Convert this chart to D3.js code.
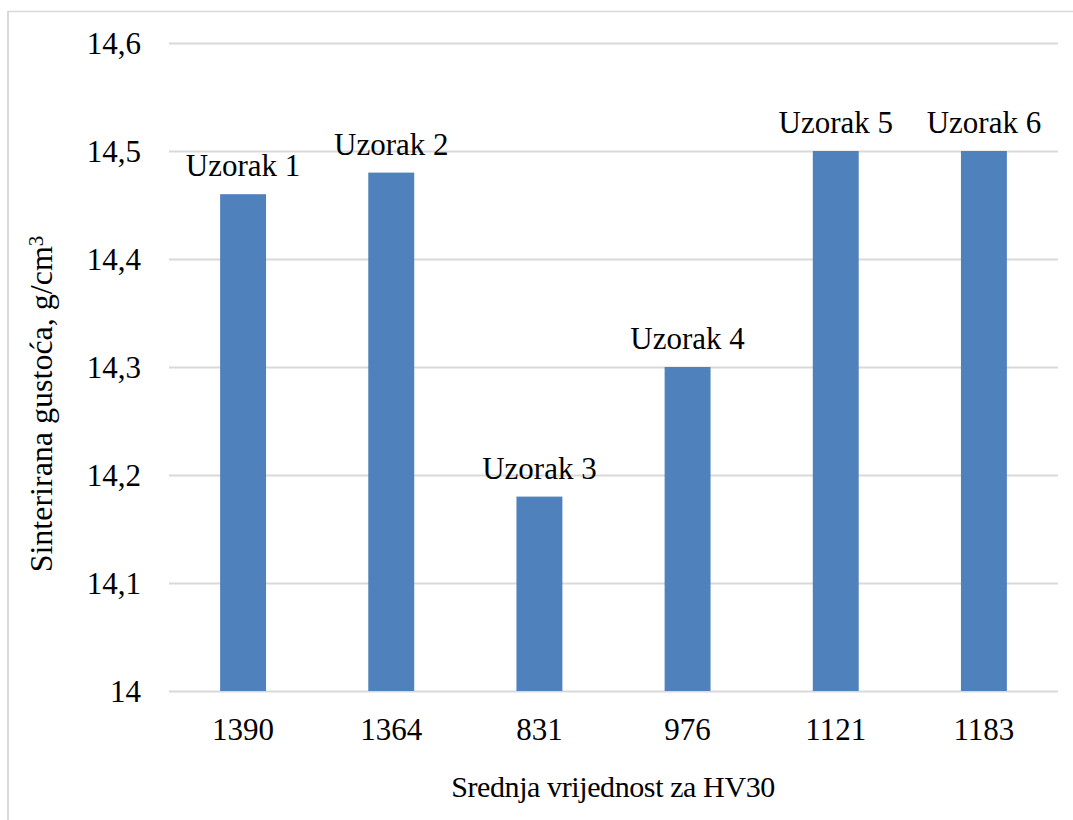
<!DOCTYPE html>
<html>
<head>
<meta charset="utf-8">
<script src="https://cdn.jsdelivr.net/npm/d3@7"></script>
<style>
  html, body { margin: 0; padding: 0; background: #fff; }
  svg { display: block; }
</style>
</head>
<body>
<svg id="chart" width="1073" height="820"></svg>
<script>
// Hardness (HV30) categories and sintered density per sample
const categories = ["1390", "1364", "831", "976", "1121", "1183"];
const densities = [14.46, 14.48, 14.18, 14.30, 14.50, 14.50];
const sampleLabels = ["Uzorak 1", "Uzorak 2", "Uzorak 3", "Uzorak 4", "Uzorak 5", "Uzorak 6"];
const yTicks = [14, 14.1, 14.2, 14.3, 14.4, 14.5, 14.6];

const svg = d3.select("#chart");
const W = 1073, H = 820;
const plot = { left: 169, right: 1058, top: 43, bottom: 691 };
const fontSize = 30;
const serif = "Liberation Serif";
const grid = "#d9d9d9";

function styleText(sel, size = fontSize) {
  return sel.style("font-family", serif)
    .style("font-size", size + "px")
    .style("fill", "#000");
}

// chart frame (top and left edges)
svg.append("line").attr("x1", 8).attr("x2", W).attr("y1", 11.5).attr("y2", 11.5)
  .attr("stroke", grid).attr("stroke-width", 1.5);
svg.append("line").attr("x1", 8).attr("x2", 8).attr("y1", 11).attr("y2", H)
  .attr("stroke", grid).attr("stroke-width", 2);

const x = d3.scaleBand()
  .domain(categories)
  .range([plot.left, plot.right])
  .paddingInner(0.69)
  .paddingOuter(0.345);

const y = d3.scaleLinear()
  .domain([14, 14.6])
  .range([plot.bottom, plot.top]);

// horizontal gridlines
svg.append("g")
  .selectAll("line")
  .data(yTicks)
  .join("line")
  .attr("x1", plot.left).attr("x2", plot.right)
  .attr("y1", d => Math.round(y(d)) + 0.5).attr("y2", d => Math.round(y(d)) + 0.5)
  .attr("stroke", grid).attr("stroke-width", 2);

// y tick labels
const yAxis = d3.axisLeft(y).tickValues(yTicks)
  .tickFormat(d => d3.format(".1f")(d).replace(".", ",").replace(/,0$/, ""))
  .tickSize(0).tickPadding(0);
const gy = svg.append("g").attr("transform", "translate(141,0)").call(yAxis);
gy.select(".domain").remove();
styleText(gy.selectAll("text"), 31).attr("dy", "0.34em");

// bars
svg.append("g")
  .selectAll("rect")
  .data(densities)
  .join("rect")
  .attr("x", (d, i) => x(categories[i]))
  .attr("width", x.bandwidth())
  .attr("y", d => y(d))
  .attr("height", d => y(14) - y(d))
  .attr("fill", "#4f81bd");

// sample labels above bars
styleText(svg.append("g")
  .selectAll("text")
  .data(densities)
  .join("text")
  .attr("x", (d, i) => x(categories[i]) + x.bandwidth() / 2)
  .attr("y", d => y(d) - 18)
  .attr("text-anchor", "middle")
  .text((d, i) => sampleLabels[i]), 31);

// x tick labels
const xAxis = d3.axisBottom(x).tickSize(0).tickPadding(0);
const gx = svg.append("g").attr("transform", "translate(0,740)").call(xAxis);
gx.select(".domain").remove();
styleText(gx.selectAll("text"), 31).attr("dy", 0).attr("y", 0);

// axis titles
styleText(svg.append("text")
  .attr("x", 613)
  .attr("y", 797)
  .attr("text-anchor", "middle")
  .style("letter-spacing", "-0.4px")
  .text("Srednja vrijednost za HV30"));

const yTitle = styleText(svg.append("text")
  .attr("transform", "translate(52,404) rotate(-90)")
  .attr("text-anchor", "middle"), 32);
yTitle.append("tspan").text("Sinterirana gustoća, g/cm");
yTitle.append("tspan").style("font-size", "21px").attr("dy", "-0.45em").text("3");
</script>
</body>
</html>
